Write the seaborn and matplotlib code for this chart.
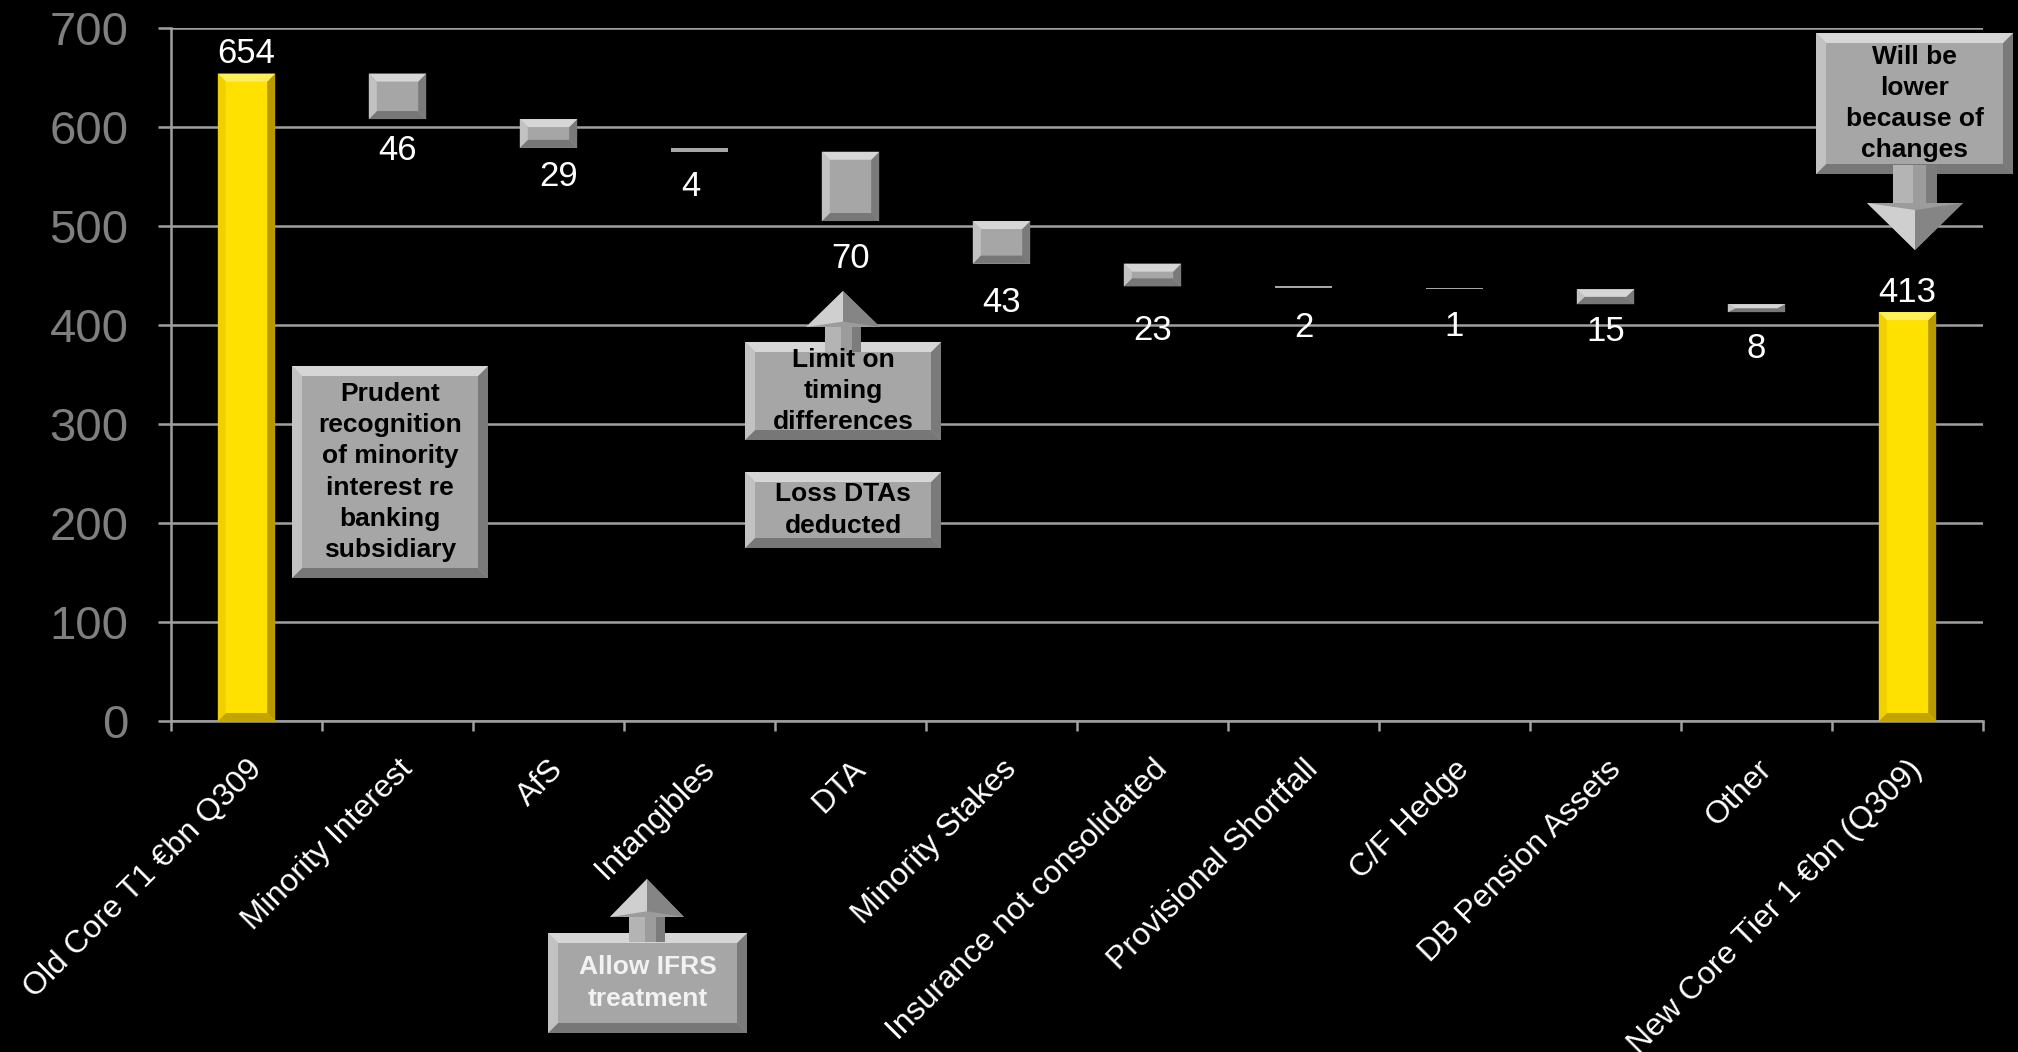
import numpy as np
import pandas as pd
import matplotlib
matplotlib.use("Agg")
import matplotlib.pyplot as plt
from matplotlib.patches import Polygon, Rectangle
from matplotlib.transforms import Affine2D
import seaborn as sns

# ---- data -------------------------------------------------------------
categories = [
    "Old Core T1 €bn Q309", "Minority Interest", "AfS", "Intangibles", "DTA",
    "Minority Stakes", "Insurance not consolidated", "Provisional Shortfall",
    "C/F Hedge", "DB Pension Assets", "Other", "New Core Tier 1 €bn (Q309)",
]
opening_total = 654
deductions = [46, 29, 4, 70, 43, 23, 2, 1, 15, 8]
closing_total = 413

# gap (pt) between each deduction box and its value label, and sideways nudge
label_gap_pt = [11, 9, 13, 15, 16, 20, 16, 15, 8, 14]
label_dx_pt = [0, 7, -6, 0, 0, 0, 0, 0, 0, 0]

# ---- waterfall geometry ----------------------------------------------
heights = [opening_total] + deductions + [closing_total]
bottoms = [0]
level = opening_total
for d in deductions:
    level -= d
    bottoms.append(level)
bottoms.append(0)
kinds = ["total"] + ["step"] * len(deductions) + ["total"]
df = pd.DataFrame({"category": categories, "height": heights, "kind": kinds})

# ---- style --------------------------------------------------------------
W, H, DPI = 2018, 1052, 100
sns.set_theme(style="ticks")
plt.rcParams["font.family"] = ["Liberation Sans", "DejaVu Sans"]
GRID = "#A0A0A0"
YELLOW = "#FFE100"
GREY = "#A6A6A6"
yellow_shades = dict(top="#FFEF5C", bottom="#C4A400", left="#F0D000", right="#B89A00")
grey_shades = dict(top="#D6D6D6", bottom="#777777", left="#C2C2C2", right="#7A7A7A")

fig = plt.figure(figsize=(W / DPI, H / DPI), dpi=DPI, facecolor="black")
ax_l, ax_r, ax_t, ax_b = 171, 1983, 28, 721
ax = fig.add_axes([ax_l / W, 1 - ax_b / H, (ax_r - ax_l) / W, (ax_b - ax_t) / H])
ax.set_facecolor("black")

sns.barplot(data=df, x="category", y="height", hue="kind",
            palette={"total": YELLOW, "step": GREY}, dodge=False,
            width=0.38, saturation=1, legend=False, ax=ax)
ax.set_xlim(-0.5, len(categories) - 0.5)
ax.set_ylim(0, 700)

px_x = (ax_r - ax_l) / len(categories)
px_y = (ax_b - ax_t) / 700.0


def facets(x0, y0, w, h, bx, by, shades):
    bx = min(bx, w / 2)
    by = min(by, h / 2)
    o = [(x0, y0), (x0 + w, y0), (x0 + w, y0 + h), (x0, y0 + h)]
    i = [(x0 + bx, y0 + by), (x0 + w - bx, y0 + by),
         (x0 + w - bx, y0 + h - by), (x0 + bx, y0 + h - by)]
    return [
        ([o[0], o[1], i[1], i[0]], shades["bottom"]),
        ([o[1], o[2], i[2], i[1]], shades["right"]),
        ([o[3], o[2], i[2], i[3]], shades["top"]),
        ([o[0], o[3], i[3], i[0]], shades["left"]),
    ]


# move each bar onto its waterfall base and give it a bevelled face
for p in ax.patches:
    idx = int(round(p.get_x() + p.get_width() / 2))
    p.set_y(bottoms[idx])
    p.set_height(heights[idx])
    p.set_edgecolor("none")
    p.set_linewidth(0)
    p.set_zorder(3)
    shades = yellow_shades if kinds[idx] == "total" else grey_shades
    if heights[idx] * px_y >= 4:
        for pts, c in facets(p.get_x(), bottoms[idx], p.get_width(), heights[idx],
                             8 / px_x, 8 / px_y, shades):
            ax.add_patch(Polygon(pts, closed=True, facecolor=c, edgecolor="none", zorder=4))

# value labels
for idx, v in enumerate(heights):
    if kinds[idx] == "total":
        ax.annotate(f"{v}", xy=(idx, bottoms[idx] + v), xytext=(0, 7.5),
                    textcoords="offset points", ha="center", va="baseline",
                    fontsize=25, color="white", zorder=5)
    else:
        k = idx - 1
        ax.annotate(f"{v}", xy=(idx, bottoms[idx]), xytext=(label_dx_pt[k], -label_gap_pt[k]),
                    textcoords="offset points", ha="center", va="top",
                    fontsize=25, color="white", zorder=5)

# axes dressing
for s in ["top", "right"]:
    ax.spines[s].set_visible(False)
for s in ["left", "bottom"]:
    ax.spines[s].set_color(GRID)
    ax.spines[s].set_linewidth(1.8)
ax.set_axisbelow(True)
ax.yaxis.grid(True, color=GRID, linewidth=1.8)
ax.xaxis.grid(False)
ax.set_yticks(np.arange(0, 701, 100))
ax.tick_params(axis="y", length=9.5, width=1.8, color=GRID, pad=21,
               labelsize=34, labelcolor="#7F7F7F", direction="out", left=True)
ax.set_xticks(range(len(categories)))
ax.set_xticklabels(categories, rotation=45, ha="right", va="top",
                   rotation_mode="anchor", fontsize=23, color="white")
ax.set_xticks(np.arange(-0.5, len(categories), 1), minor=True)
ax.tick_params(axis="x", which="major", length=0, pad=24)
ax.tick_params(axis="x", which="minor", length=7, width=1.8, color=GRID,
               direction="out", bottom=True)
ax.set_xlabel("")
ax.set_ylabel("")

# ---- callouts (pixel coordinates, measured from the top-left corner) ----
T = Affine2D().scale(1 / W, 1 / H) + fig.transFigure


def up(y):
    return H - y


def callout_box(x0, y0, x1, y1, bevel=10):
    fig.add_artist(Rectangle((x0, up(y1)), x1 - x0, y1 - y0, transform=T,
                             facecolor=GREY, edgecolor="none", zorder=10))
    for pts, c in facets(x0, up(y1), x1 - x0, y1 - y0, bevel, bevel, grey_shades):
        fig.add_artist(Polygon(pts, closed=True, transform=T, facecolor=c,
                               edgecolor="none", zorder=10))


def block_arrow(cx, tip, head_base, stem_end, hw, sw):
    outline = [(cx, tip), (cx + hw, head_base), (cx + sw, head_base), (cx + sw, stem_end),
               (cx - sw, stem_end), (cx - sw, head_base), (cx - hw, head_base)]
    parts = [
        (outline, "#9C9C9C"),
        ([(cx, tip), (cx - hw, head_base), (cx, head_base + (tip - head_base) * 0.15)], "#CFCFCF"),
        ([(cx, tip), (cx + hw, head_base), (cx, head_base + (tip - head_base) * 0.15)], "#858585"),
        ([(cx - sw, head_base), (cx - 2, head_base), (cx - 2, stem_end), (cx - sw, stem_end)], "#B4B4B4"),
        ([(cx + sw * 0.5, head_base), (cx + sw, head_base), (cx + sw, stem_end), (cx + sw * 0.5, stem_end)], "#7C7C7C"),
    ]
    for pts, c in parts:
        fig.add_artist(Polygon([(x, up(y)) for x, y in pts], closed=True, transform=T,
                               facecolor=c, edgecolor="none", zorder=11))


def callout_text(x0, y0, x1, y1, text, color="black"):
    fig.text((x0 + x1) / 2 / W, 1 - (y0 + y1) / 2 / H, text, ha="center", va="center",
             fontsize=19, fontweight="bold", color=color, linespacing=1.38,
             multialignment="center", zorder=12)


boxes = [
    ((292, 366, 488, 578), "Prudent\nrecognition\nof minority\ninterest re\nbanking\nsubsidiary", "black"),
    ((745, 342, 941, 440), "Limit on\ntiming\ndifferences", "black"),
    ((745, 472, 941, 548), "Loss DTAs\ndeducted", "black"),
    ((548, 933, 747, 1033), "Allow IFRS\ntreatment", "#F2F2F2"),
    ((1816, 33, 2013, 174), "Will be\nlower\nbecause of\nchanges", "black"),
]
for (x0, y0, x1, y1), _, _ in boxes:
    callout_box(x0, y0, x1, y1)

block_arrow(843, 291, 327, 352, 37, 18)     # up into "Limit on timing differences"
block_arrow(647, 879, 917, 942, 37, 18)     # up into "Allow IFRS treatment"
block_arrow(1915, 250, 203, 165, 48, 22)    # down out of "Will be lower"

for (x0, y0, x1, y1), text, color in boxes:
    callout_text(x0, y0, x1, y1, text, color)

fig.savefig("out.png", dpi=DPI, facecolor="black")
